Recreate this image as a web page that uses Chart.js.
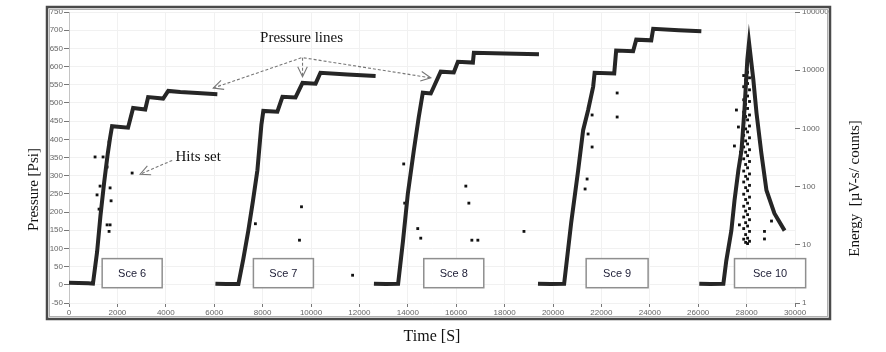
<!DOCTYPE html>
<html>
<head>
<meta charset="utf-8">
<script src="https://cdn.jsdelivr.net/npm/chart.js@4.4.0/dist/chart.umd.min.js"></script>
<style>
  html, body { margin: 0; padding: 0; background: #fff; }
</style>
</head>
<body>
<canvas id="chart" width="886" height="352"></canvas>
<script>
// pressure lines, one per scenario (time in s, pressure in psi)
var sce6Time = [0, 400, 800, 990, 1160, 1300, 1450, 1600, 1700, 1780, 2440, 2650, 3150, 3270, 3890, 4100, 4600, 5300, 6130];
var sce6Psi  = [6, 5, 4, 3, 90, 190, 280, 360, 405, 436, 432, 486, 482, 516, 512, 533, 530, 527, 524];

var sce7Time = [6050, 6500, 7000, 7200, 7410, 7600, 7785, 7950, 8030, 8610, 8820, 9360, 9650, 10190, 10390, 11500, 12670];
var sce7Psi  = [3, 2, 2, 70, 149, 230, 315, 440, 478, 476, 517, 515, 555, 553, 583, 578, 574];

var sce8Time = [12600, 13100, 13600, 13800, 14000, 14250, 14450, 14620, 14950, 15360, 15900, 16070, 16690, 16730, 18000, 19420];
var sce8Psi  = [3, 2, 3, 120, 250, 370, 460, 528, 526, 586, 584, 613, 611, 638, 636, 634];

var sce9Time = [19380, 19900, 20460, 20750, 21040, 21245, 21450, 21660, 21720, 22530, 22610, 23310, 23440, 24060, 24140, 25200, 26130];
var sce9Psi  = [3, 2, 3, 170, 315, 425, 480, 545, 583, 581, 644, 642, 674, 672, 704, 700, 697];

var sce10Time = [26045, 26500, 27040, 27160, 27370, 27500, 27660, 27790, 27910, 28030, 28100, 28280, 28410, 28610, 28820, 29150, 29570];
var sce10Psi  = [3, 2, 3, 66, 149, 232, 315, 370, 480, 619, 666, 563, 472, 362, 260, 196, 149];

// acoustic emission hits (time in s, energy in uV-s/count)
var hitsTime = [
  1077, 1408, 1656, 1574, 2609, 1284, 1698, 1159, 1739, 1242, 1574, 1698, 1656,
  7702, 9607, 9524, 11719,
  13831, 13872, 16398, 16523, 14411, 14535, 16647, 16895, 18800,
  22651, 22651, 21616, 21450, 21616, 21409, 21326,
  27580, 27662, 27497, 27745, 27703, 28739, 28739, 29029,
  27880, 27880, 27880, 27880, 27880, 27880, 27880, 27880, 27880, 27880, 27880, 27880, 27880, 27880, 27880,
  27960, 27960, 27960, 27960, 27960, 27960, 27960, 27960, 27960, 27960, 27960, 27960, 27960, 27960, 27960,
  28040, 28040, 28040, 28040, 28040, 28040, 28040, 28040, 28040, 28040, 28040, 28040, 28040, 28040, 28040, 28040,
  28120, 28120, 28120, 28120, 28120, 28120, 28120, 28120, 28120, 28120, 28120, 28120, 28120, 28120, 28120
];
var hitsEnergy = [
  323, 323, 584, 217, 171, 102, 95, 72, 57, 41, 22, 22, 17,
  23, 45, 12, 3,
  245, 52, 102, 52, 19, 13, 12, 12, 17,
  4060, 1570, 1700, 801, 479, 135, 91,
  2070, 1057, 499, 393, 22, 17, 12.6, 25.6,
  8100, 5200, 3100, 1900, 1250, 760, 480, 300, 185, 120, 74, 46, 30, 19, 12.5,
  6800, 4300, 2600, 1600, 980, 610, 390, 240, 150, 96, 60, 38, 24, 15, 11,
  9200, 5900, 3600, 2200, 1400, 870, 540, 340, 210, 135, 85, 52, 33, 21, 13, 10.5,
  7400, 4600, 2900, 1700, 1100, 690, 430, 270, 165, 105, 66, 42, 27, 17, 11.5
];

var energyTicks = [1, 10, 100, 1000, 10000, 100000];
var scenarioLabels = ['Sce 6', 'Sce 7', 'Sce 8', 'Sce 9', 'Sce 10'];

// annotations in data units (box spans in s, pressure in psi)
var boxSpans = [[1370, 3850], [7620, 10100], [14660, 17140], [21370, 23930], [27500, 30440]];
var boxPsi = [-8, 72];
var arrows = [
  [9600, 624, 5960, 541],
  [9650, 624, 9650, 572],
  [9700, 624, 14950, 569],
  [4265, 342, 2940, 304]
];

function pairs(xs, ys) {
  return xs.map(function (x, i) { return { x: x, y: ys[i] }; });
}

function pressureSet(t, p) {
  return {
    data: pairs(t, p),
    showLine: true,
    borderColor: '#262626',
    borderWidth: 4,
    pointRadius: 0,
    tension: 0,
    yAxisID: 'y'
  };
}

var tickFont = { family: 'Liberation Sans', size: 8 };

var decorations = {
  id: 'decorations',
  beforeDraw: function (chart) {
    var ctx = chart.ctx;
    ctx.save();
    ctx.fillStyle = '#fff';
    ctx.fillRect(0, 0, chart.width, chart.height);
    ctx.restore();
  },
  afterDraw: function (chart) {
    var ctx = chart.ctx;
    var a = chart.chartArea;
    var xs = chart.scales.x, ys = chart.scales.y;
    ctx.save();

    // outer frame
    ctx.strokeStyle = '#4a4a4a';
    ctx.lineWidth = 2.5;
    ctx.strokeRect(a.left - 22, a.top - 5, a.right - a.left + 57, a.bottom - a.top + 21);
    ctx.strokeStyle = '#b0b0b0';
    ctx.lineWidth = 1;
    ctx.strokeRect(a.left - 19.5, a.top - 2.5, a.right - a.left + 52, a.bottom - a.top + 16);

    // scenario boxes
    ctx.font = '11px "Liberation Sans"';
    ctx.textAlign = 'center';
    ctx.textBaseline = 'middle';
    boxSpans.forEach(function (s, i) {
      var x0 = xs.getPixelForValue(s[0]), x1 = xs.getPixelForValue(s[1]);
      var y0 = ys.getPixelForValue(boxPsi[1]), y1 = ys.getPixelForValue(boxPsi[0]);
      ctx.fillStyle = '#fff';
      ctx.fillRect(x0, y0, x1 - x0, y1 - y0);
      ctx.strokeStyle = '#8f8f8f';
      ctx.lineWidth = 1.5;
      ctx.strokeRect(x0, y0, x1 - x0, y1 - y0);
      ctx.fillStyle = '#1c1c34';
      ctx.fillText(scenarioLabels[i], (x0 + x1) / 2, (y0 + y1) / 2 + 1);
    });

    // dashed arrows
    arrows.forEach(function (r) {
      var x0 = xs.getPixelForValue(r[0]), y0 = ys.getPixelForValue(r[1]);
      var x1 = xs.getPixelForValue(r[2]), y1 = ys.getPixelForValue(r[3]);
      ctx.strokeStyle = '#777';
      ctx.lineWidth = 1.1;
      ctx.setLineDash([3, 2]);
      ctx.beginPath();
      ctx.moveTo(x0, y0);
      ctx.lineTo(x1, y1);
      ctx.stroke();
      ctx.setLineDash([]);
      var ang = Math.atan2(y1 - y0, x1 - x0);
      ctx.beginPath();
      ctx.moveTo(x1 - 11 * Math.cos(ang - 0.45), y1 - 11 * Math.sin(ang - 0.45));
      ctx.lineTo(x1, y1);
      ctx.lineTo(x1 - 11 * Math.cos(ang + 0.45), y1 - 11 * Math.sin(ang + 0.45));
      ctx.stroke();
    });

    // annotation texts
    ctx.fillStyle = '#111';
    ctx.font = '15px "Liberation Serif"';
    ctx.fillText('Pressure lines', xs.getPixelForValue(9610), ys.getPixelForValue(679));
    ctx.fillText('Hits set', xs.getPixelForValue(5340), ys.getPixelForValue(351));

    // axis titles
    ctx.font = '16px "Liberation Serif"';
    ctx.fillText('Time [S]', (a.left + a.right) / 2, chart.height - 15);

    ctx.font = '15px "Liberation Serif"';
    ctx.save();
    ctx.translate(a.left - 35, (a.top + a.bottom) / 2 + 32);
    ctx.rotate(-Math.PI / 2);
    ctx.fillText('Pressure [Psi]', 0, 0);
    ctx.restore();

    ctx.save();
    ctx.translate(a.right + 60, (a.top + a.bottom) / 2 + 31);
    ctx.rotate(-Math.PI / 2);
    ctx.fillText('Energy  [\u00b5V-s/ counts]', 0, 0);
    ctx.restore();

    ctx.restore();
  }
};

new Chart(document.getElementById('chart'), {
  type: 'scatter',
  data: {
    datasets: [
      pressureSet(sce6Time, sce6Psi),
      pressureSet(sce7Time, sce7Psi),
      pressureSet(sce8Time, sce8Psi),
      pressureSet(sce9Time, sce9Psi),
      pressureSet(sce10Time, sce10Psi),
      {
        data: pairs(hitsTime, hitsEnergy),
        pointStyle: 'rect',
        pointRadius: 2,
        backgroundColor: '#111',
        borderWidth: 0,
        yAxisID: 'yE'
      }
    ]
  },
  options: {
    responsive: false,
    devicePixelRatio: 1,
    animation: false,
    layout: { padding: { left: 47, right: 56, top: 12, bottom: 32 } },
    plugins: { legend: { display: false }, tooltip: { enabled: false } },
    scales: {
      x: {
        type: 'linear',
        min: 0,
        max: 30000,
        ticks: {
          stepSize: 2000, font: tickFont, color: '#666', padding: 1, maxRotation: 0, autoSkip: false,
          callback: function (v) { return String(v); }
        },
        grid: { color: '#f1f1f1', tickColor: '#777', tickLength: 4 },
        border: { display: false },
        afterFit: function (s) { s.height = 17; }
      },
      y: {
        position: 'left',
        min: -50,
        max: 750,
        ticks: { stepSize: 50, font: tickFont, color: '#666', padding: 1 },
        grid: { color: '#f1f1f1', tickColor: '#777', tickLength: 5 },
        border: { display: true, color: '#c4c4c4' },
        afterFit: function (s) { s.width = 22; }
      },
      yE: {
        type: 'logarithmic',
        position: 'right',
        min: 1,
        max: 100000,
        afterBuildTicks: function (s) {
          s.ticks = energyTicks.map(function (v) { return { value: v }; });
        },
        ticks: {
          font: tickFont,
          color: '#666',
          padding: 2,
          callback: function (v) { return String(v); }
        },
        grid: { drawOnChartArea: false, tickColor: '#777', tickLength: 5 },
        border: { display: false },
        afterFit: function (s) { s.width = 35; }
      }
    }
  },
  plugins: [decorations]
});
</script>
</body>
</html>
